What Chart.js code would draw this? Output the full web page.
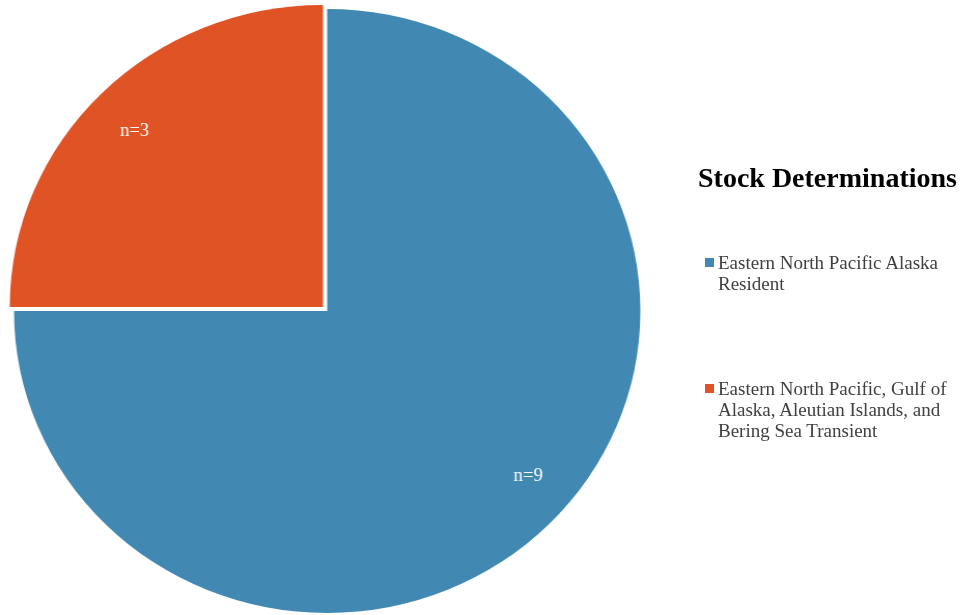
<html>
<head>
    <meta charset="utf-8">
    <title>Stock Determinations</title>
    <script src="https://cdn.jsdelivr.net/npm/chart.js@4/dist/chart.umd.min.js"></script>
    <style type="text/css">
        body {
            margin: 0;
            background: #ffffff;
            font-family: "Liberation Serif", "Times New Roman", serif;
        }
        /* pie is drawn slightly wider than tall */
        #wrap {
            position: absolute;
            left: 0;
            top: 0;
            width: 962px;
            height: 615px;
            transform: scaleX(1.037);
            transform-origin: 0 0;
        }
        #legend {
            position: absolute;
            left: 698px;
            top: 162px;
        }
        #legend h3 {
            margin: 0;
            font-size: 28px;
            font-weight: bold;
            color: #000000;
            white-space: nowrap;
        }
        #legend ul {
            list-style: none;
            margin: 0;
            padding: 0;
        }
        #legend li {
            position: absolute;
            left: 20px;
            width: 245px;
            font-size: 19px;
            line-height: 21px;
            color: #404040;
        }
        #legend li span {
            position: absolute;
            left: -13px;
            top: 6px;
            width: 9px;
            height: 9px;
        }
    </style>
</head>
<body>
<div id="wrap">
    <canvas id="pieChart"></canvas>
</div>
<div id="legend">
    <h3>Stock Determinations</h3>
    <ul id="legendItems"></ul>
</div>

<script>
    // stock names, case counts and slice colours
    var stocks = [
        'Eastern North Pacific Alaska Resident',
        'Eastern North Pacific, Gulf of Alaska, Aleutian Islands, and Bering Sea Transient'
    ];
    var counts = [9, 3];
    var colours = ['#4189B2', '#E05325'];

    // "n=" labels inside each slice
    var countLabels = {
        id: 'countLabels',
        afterDatasetsDraw: function(chart) {
            var ctx = chart.ctx;
            var meta = chart.getDatasetMeta(0);
            ctx.save();
            ctx.fillStyle = '#ffffff';
            ctx.font = '18px "Liberation Serif", serif';
            ctx.textAlign = 'center';
            ctx.textBaseline = 'middle';
            meta.data.forEach(function(arc, i) {
                var p = arc.getProps(['x', 'y', 'startAngle', 'endAngle', 'outerRadius'], true);
                var a = p.startAngle + (p.endAngle - p.startAngle) * 0.485;
                var r = p.outerRadius * 0.85;
                ctx.fillText('n=' + counts[i], p.x + Math.cos(a) * r, p.y + Math.sin(a) * r - 3);
            });
            ctx.restore();
        }
    };

    var ctx = document.getElementById('pieChart').getContext('2d');
    var stockChart = new Chart(ctx, {
        type: 'pie',
        data: {
            labels: stocks,
            datasets: [{
                data: counts,
                backgroundColor: colours,
                borderWidth: 0,
                offset: [0, 23]
            }]
        },
        options: {
            responsive: true,
            maintainAspectRatio: false,
            animation: false,
            radius: 302,
            layout: {
                padding: {left: 0, top: 7, right: 331, bottom: 0}
            },
            plugins: {
                legend: {display: false},
                tooltip: {enabled: false}
            }
        },
        plugins: [countLabels]
    });

    // legend on the right
    var tops = [90, 216];
    var list = document.getElementById('legendItems');
    stocks.forEach(function(name, i) {
        var li = document.createElement('li');
        li.style.top = tops[i] + 'px';
        var box = document.createElement('span');
        box.style.background = colours[i];
        li.appendChild(box);
        li.appendChild(document.createTextNode(name));
        list.appendChild(li);
    });
</script>
</body>
</html>
